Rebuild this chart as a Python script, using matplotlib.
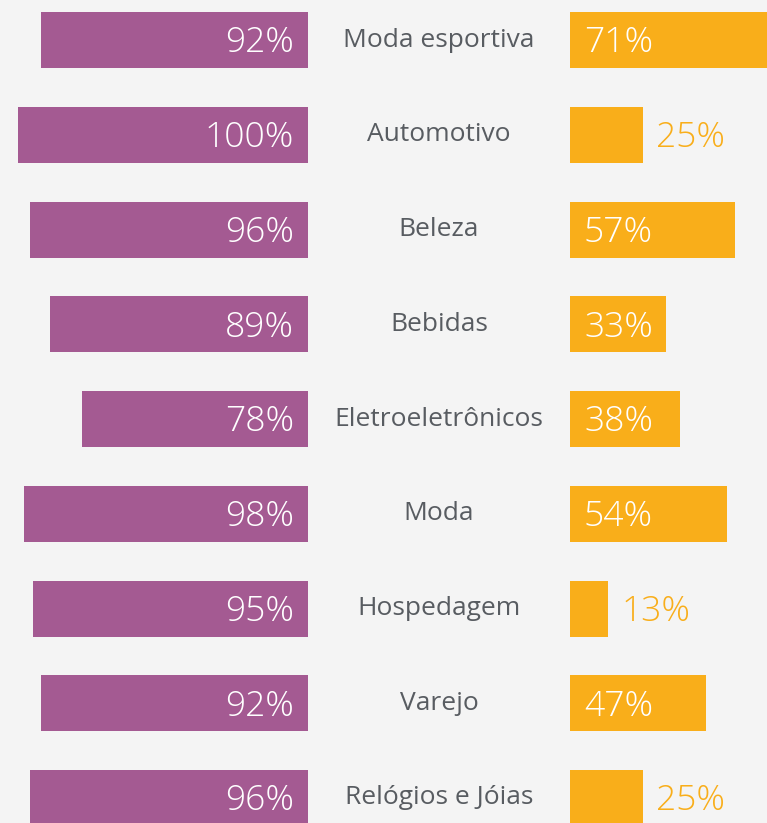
import matplotlib
matplotlib.use('Agg')
import matplotlib.pyplot as plt

categories = ['Moda esportiva', 'Automotivo', 'Beleza', 'Bebidas',
              'Eletroeletrônicos', 'Moda', 'Hospedagem', 'Varejo',
              'Relógios e Jóias']
left_vals = [92, 100, 96, 89, 78, 98, 95, 92, 96]
right_vals = [71, 25, 57, 33, 38, 54, 13, 47, 25]

PURPLE = '#a45a92'
ORANGE = '#f9ae1a'
BG = '#f4f4f4'
LABEL = '#585c61'

W, H, DPI = 767, 823, 100
PX_PER_PCT = 2.9          # bar length per percentage point, pixels
LEFT_EDGE, RIGHT_EDGE = 308, 570   # bar baselines, pixels
ROW_TOP, ROW_STEP = 40, 94.75      # first row centre and row spacing
BAR_H = 56 / ROW_STEP
INSIDE_MIN = 30
DY = 3 / ROW_STEP                  # nudge value labels down a bit

plt.rcParams['font.family'] = ['Open Sans', 'DejaVu Sans']

fig = plt.figure(figsize=(W / DPI, H / DPI), dpi=DPI)
fig.patch.set_facecolor(BG)

ylim = ((H - ROW_TOP) / ROW_STEP, -ROW_TOP / ROW_STEP)
rows = range(len(categories))
val_kw = dict(va='center', fontsize=25.5, fontweight='light')

# left panel: x inverted, 0 at the baseline
axl = fig.add_axes([0, 0, LEFT_EDGE / W, 1])
axl.set_xlim(LEFT_EDGE / PX_PER_PCT, 0)
axl.set_ylim(*ylim)
axl.barh(rows, left_vals, height=BAR_H, color=PURPLE)
pad = 14 / PX_PER_PCT
for i, v in zip(rows, left_vals):
    axl.text(pad, i + DY, f'{v}%', ha='right', color='white', **val_kw)

axr = fig.add_axes([RIGHT_EDGE / W, 0, (W - RIGHT_EDGE) / W, 1])
axr.set_xlim(0, (W - RIGHT_EDGE) / PX_PER_PCT)
axr.set_ylim(*ylim)
axr.barh(rows, right_vals, height=BAR_H, color=ORANGE)
for i, v in zip(rows, right_vals):
    if v >= INSIDE_MIN:
        axr.text(pad, i + DY, f'{v}%', ha='left', color='white', **val_kw)
    else:
        axr.text(v + pad, i + DY, f'{v}%', ha='left', color=ORANGE, **val_kw)

for ax in (axl, axr):
    ax.set_facecolor(BG)
    ax.set_axis_off()

# category labels centred in the gap
axc = fig.add_axes([LEFT_EDGE / W, 0, (RIGHT_EDGE - LEFT_EDGE) / W, 1])
axc.set_xlim(0, 1)
axc.set_ylim(*ylim)
axc.set_axis_off()
for i, c in zip(rows, categories):
    axc.text(0.5, i, c, ha='center', va='center', color=LABEL, fontsize=19)

fig.savefig('out.png', dpi=DPI, facecolor=BG)
